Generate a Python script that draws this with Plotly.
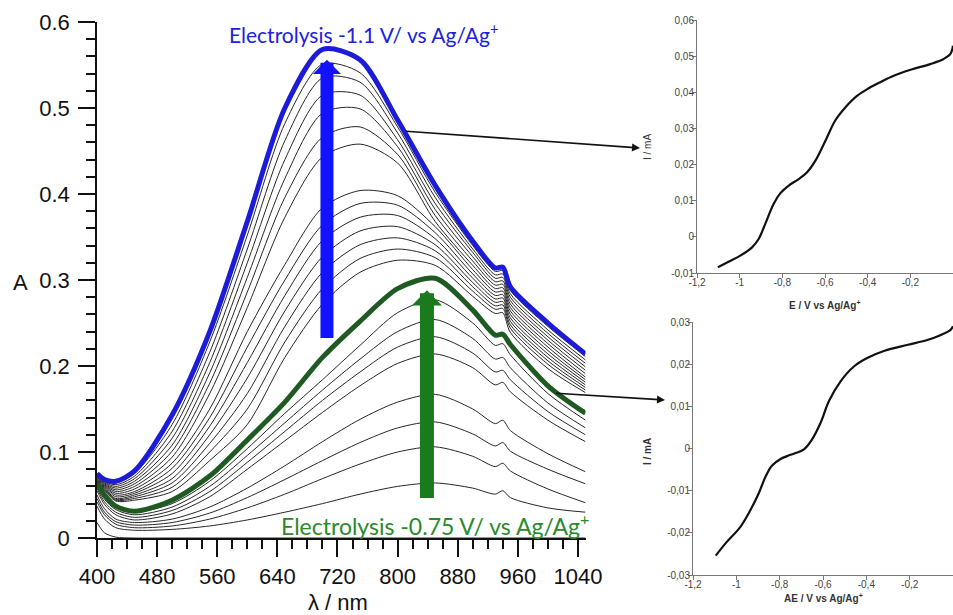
import plotly.graph_objects as go

# ---------------- data: main spectra ----------------
wavelength = [400, 410, 425, 450, 500, 550, 600, 650, 700, 750, 800, 850, 900, 930, 940, 950, 1000, 1050]

abs_blue = [0.075, 0.068, 0.066, 0.078, 0.143, 0.240, 0.368, 0.500, 0.568, 0.556, 0.486, 0.410, 0.345, 0.314, 0.315, 0.292, 0.250, 0.214]
abs_green = [0.064, 0.050, 0.037, 0.031, 0.044, 0.072, 0.114, 0.158, 0.210, 0.252, 0.290, 0.302, 0.265, 0.236, 0.237, 0.225, 0.177, 0.145]

abs_u01 = [0.074, 0.067, 0.064, 0.075, 0.132, 0.228, 0.352, 0.482, 0.551, 0.541, 0.478, 0.402, 0.340, 0.310, 0.311, 0.288, 0.246, 0.211]
abs_u02 = [0.073, 0.066, 0.062, 0.072, 0.124, 0.216, 0.336, 0.462, 0.535, 0.530, 0.471, 0.396, 0.336, 0.306, 0.307, 0.284, 0.242, 0.207]
abs_u03 = [0.072, 0.065, 0.060, 0.069, 0.116, 0.204, 0.320, 0.440, 0.515, 0.515, 0.463, 0.389, 0.332, 0.302, 0.303, 0.280, 0.238, 0.203]
abs_u04 = [0.071, 0.064, 0.058, 0.066, 0.108, 0.192, 0.303, 0.418, 0.494, 0.499, 0.455, 0.382, 0.327, 0.298, 0.299, 0.276, 0.234, 0.199]
abs_u05 = [0.070, 0.063, 0.056, 0.063, 0.101, 0.180, 0.286, 0.396, 0.466, 0.478, 0.446, 0.375, 0.322, 0.294, 0.295, 0.272, 0.230, 0.195]
abs_u06 = [0.069, 0.062, 0.054, 0.060, 0.094, 0.168, 0.268, 0.373, 0.443, 0.458, 0.436, 0.368, 0.317, 0.290, 0.291, 0.268, 0.226, 0.191]
abs_u07 = [0.068, 0.061, 0.052, 0.057, 0.087, 0.150, 0.240, 0.318, 0.384, 0.404, 0.398, 0.362, 0.312, 0.286, 0.287, 0.264, 0.222, 0.187]
abs_u08 = [0.067, 0.060, 0.050, 0.054, 0.081, 0.140, 0.222, 0.300, 0.364, 0.389, 0.387, 0.355, 0.307, 0.282, 0.283, 0.260, 0.218, 0.184]
abs_u09 = [0.066, 0.059, 0.048, 0.052, 0.075, 0.130, 0.204, 0.282, 0.346, 0.373, 0.375, 0.348, 0.302, 0.278, 0.279, 0.256, 0.214, 0.181]
abs_u10 = [0.065, 0.058, 0.046, 0.050, 0.069, 0.120, 0.186, 0.264, 0.327, 0.357, 0.362, 0.341, 0.297, 0.274, 0.275, 0.252, 0.210, 0.178]
abs_u11 = [0.064, 0.057, 0.045, 0.048, 0.064, 0.110, 0.168, 0.246, 0.309, 0.341, 0.349, 0.334, 0.292, 0.270, 0.271, 0.248, 0.206, 0.175]
abs_u12 = [0.063, 0.056, 0.044, 0.046, 0.059, 0.100, 0.150, 0.228, 0.290, 0.325, 0.336, 0.326, 0.287, 0.266, 0.267, 0.244, 0.202, 0.172]
abs_u13 = [0.062, 0.055, 0.043, 0.044, 0.054, 0.090, 0.132, 0.210, 0.272, 0.309, 0.323, 0.317, 0.281, 0.261, 0.262, 0.239, 0.197, 0.169]

abs_l01 = [0.062, 0.048, 0.036, 0.030, 0.040, 0.066, 0.104, 0.145, 0.184, 0.224, 0.262, 0.277, 0.250, 0.224, 0.226, 0.213, 0.168, 0.137]
abs_l02 = [0.060, 0.045, 0.033, 0.027, 0.036, 0.060, 0.096, 0.134, 0.172, 0.208, 0.240, 0.254, 0.232, 0.208, 0.210, 0.198, 0.157, 0.128]
abs_l03 = [0.058, 0.042, 0.030, 0.024, 0.032, 0.054, 0.088, 0.124, 0.160, 0.193, 0.222, 0.234, 0.215, 0.193, 0.195, 0.184, 0.147, 0.120]
abs_l04 = [0.055, 0.039, 0.027, 0.021, 0.028, 0.048, 0.080, 0.113, 0.146, 0.177, 0.203, 0.214, 0.198, 0.178, 0.181, 0.170, 0.137, 0.112]
abs_l05 = [0.050, 0.034, 0.022, 0.018, 0.022, 0.036, 0.058, 0.084, 0.112, 0.138, 0.158, 0.167, 0.150, 0.133, 0.137, 0.125, 0.098, 0.077]
abs_l06 = [0.046, 0.030, 0.019, 0.015, 0.018, 0.029, 0.047, 0.068, 0.090, 0.111, 0.128, 0.135, 0.121, 0.107, 0.111, 0.101, 0.080, 0.063]
abs_l07 = [0.042, 0.027, 0.016, 0.012, 0.014, 0.022, 0.035, 0.051, 0.069, 0.086, 0.100, 0.106, 0.095, 0.083, 0.087, 0.078, 0.057, 0.041]
abs_l08 = [0.037, 0.022, 0.012, 0.009, 0.010, 0.014, 0.021, 0.030, 0.040, 0.051, 0.060, 0.064, 0.058, 0.051, 0.055, 0.047, 0.035, 0.030]
abs_l09 = [0.018, 0.006, 0.001, 0.000, 0.000, 0.000, 0.000, 0.000, 0.000, 0.000, 0.000, 0.000, 0.000, 0.000, 0.000, 0.000, 0.000, 0.000]

# ---------------- data: voltammograms ----------------
e_top = [-1.102, -1.05, -0.997, -0.942, -0.911, -0.880, -0.841, -0.809, -0.770, -0.723, -0.684, -0.645, -0.598,
         -0.552, -0.505, -0.450, -0.395, -0.341, -0.278, -0.195, -0.106, -0.044, -0.012, 0.0]
i_top = [-0.0084, -0.0068, -0.0052, -0.0029, -0.0006, 0.0036, 0.0091, 0.0121, 0.0142, 0.0160, 0.0179, 0.0211, 0.0266,
         0.0322, 0.0358, 0.0390, 0.0411, 0.0428, 0.0446, 0.0463, 0.0478, 0.0492, 0.0506, 0.0529]

e_bot = [-1.095, -1.045, -0.983, -0.936, -0.898, -0.867, -0.836, -0.796, -0.750, -0.688, -0.650, -0.611, -0.572,
         -0.518, -0.456, -0.394, -0.316, -0.208, -0.115, -0.053, -0.014, 0.0]
i_bot = [-0.0254, -0.0222, -0.0187, -0.0147, -0.0108, -0.0069, -0.0041, -0.0025, -0.0015, -0.0002, 0.0022, 0.0061,
         0.0113, 0.0160, 0.0195, 0.0215, 0.0232, 0.0246, 0.0258, 0.0270, 0.0280, 0.0290]

x_main_ticks = [400, 480, 560, 640, 720, 800, 880, 960, 1040]
y_main_ticks = [0, 0.1, 0.2, 0.3, 0.4, 0.5, 0.6]
y_main_text = ["0", "0.1", "0.2", "0.3", "0.4", "0.5", "0.6"]
e_ticks = [-1.2, -1.0, -0.8, -0.6, -0.4, -0.2, 0.0]
e_text = ["-1,2", "-1", "-0,8", "-0,6", "-0,4", "-0,2", "0"]
i_top_ticks = [-0.01, 0, 0.01, 0.02, 0.03, 0.04, 0.05, 0.06]
i_top_text = ["-0,01", "0", "0,01", "0,02", "0,03", "0,04", "0,05", "0,06"]
i_bot_ticks = [-0.03, -0.02, -0.01, 0, 0.01, 0.02, 0.03]
i_bot_text = ["-0,03", "-0,02", "-0,01", "0", "0,01", "0,02", "0,03"]

black_spectra = [abs_u01, abs_u02, abs_u03, abs_u04, abs_u05, abs_u06, abs_u07, abs_u08, abs_u09,
                 abs_u10, abs_u11, abs_u12, abs_u13,
                 abs_l01, abs_l02, abs_l03, abs_l04, abs_l05, abs_l06, abs_l07, abs_l08, abs_l09]

W, H = 953, 615
BLUE_LINE = "#1c1cd8"
BLUE_ARROW = "#1212ff"
GREEN_LINE = "#1f5a22"
GREEN_ARROW = "#1b7a1e"

fig = go.Figure()
for spec in black_spectra:
    fig.add_trace(go.Scatter(x=wavelength, y=spec, mode="lines",
                             line=dict(color="#262626", width=1, shape="spline", smoothing=0.8),
                             xaxis="x", yaxis="y", showlegend=False, hoverinfo="skip"))
fig.add_trace(go.Scatter(x=wavelength, y=abs_green, mode="lines",
                         line=dict(color=GREEN_LINE, width=5, shape="spline", smoothing=0.8),
                         xaxis="x", yaxis="y", showlegend=False))
fig.add_trace(go.Scatter(x=wavelength, y=abs_blue, mode="lines",
                         line=dict(color=BLUE_LINE, width=5, shape="spline", smoothing=0.8),
                         xaxis="x", yaxis="y", showlegend=False))
fig.add_trace(go.Scatter(x=e_top, y=i_top, mode="lines",
                         line=dict(color="#111", width=2.2, shape="spline"),
                         xaxis="x2", yaxis="y2", showlegend=False))
fig.add_trace(go.Scatter(x=e_bot, y=i_bot, mode="lines",
                         line=dict(color="#111", width=2.2, shape="spline"),
                         xaxis="x3", yaxis="y3", showlegend=False))

main_font = dict(family="Liberation Sans, Arial, sans-serif", size=22, color="#111")
small_font = dict(family="Liberation Sans, Arial, sans-serif", size=10, color="#444")

def px_x(p):
    return p / W

def px_y(p):
    return 1 - p / H

common_small_x = dict(showline=True, linecolor="#777", linewidth=1, ticks="outside", ticklen=4,
                      tickcolor="#777", showgrid=False, zeroline=False, tickfont=small_font,
                      tickvals=e_ticks, ticktext=e_text, range=[-1.2, 0.0], automargin=False,
                      ticklabelstandoff=-4)
common_small_y = dict(showline=True, linecolor="#777", linewidth=1, ticks="outside", ticklen=4,
                      tickcolor="#777", showgrid=False, zeroline=False, tickfont=small_font, automargin=False,
                      ticklabelstandoff=-4)

fig.update_layout(
    width=W, height=H,
    margin=dict(l=0, r=0, t=0, b=0, pad=0, autoexpand=False),
    paper_bgcolor="white", plot_bgcolor="white",
    xaxis=dict(domain=[px_x(97), px_x(585.5)], range=[400, 1050], anchor="y", automargin=False,
               tickvals=x_main_ticks, ticks="outside", ticklen=17, tickwidth=1.5, tickcolor="#111",
               showline=True, linecolor="#111", linewidth=1.5, showgrid=False, zeroline=False,
               tickfont=main_font, ticklabelstandoff=1,
               minor=dict(dtick=20, tick0=400, ticks="outside", ticklen=9, tickwidth=1.5, tickcolor="#111")),
    yaxis=dict(domain=[px_y(538), px_y(22)], range=[0, 0.6], anchor="x", automargin=False,
               tickvals=y_main_ticks, ticktext=y_main_text, ticks="outside", ticklen=17, tickwidth=1.5,
               tickcolor="#111", showline=True, linecolor="#111", linewidth=1.5, showgrid=False,
               zeroline=False, tickfont=main_font, ticklabelstandoff=4,
               minor=dict(dtick=0.02, tick0=0, ticks="outside", ticklen=9, tickwidth=1.5, tickcolor="#111")),
    xaxis2=dict(domain=[px_x(697), 1.0], anchor="y2", **common_small_x),
    yaxis2=dict(domain=[px_y(273), px_y(20)], range=[-0.01, 0.06], anchor="x2",
                tickvals=i_top_ticks, ticktext=i_top_text, **common_small_y),
    xaxis3=dict(domain=[px_x(693), 1.0], anchor="y3", **common_small_x),
    yaxis3=dict(domain=[px_y(575), px_y(322)], range=[-0.03, 0.03], anchor="x3",
                tickvals=i_bot_ticks, ticktext=i_bot_text, **common_small_y),
)

def label(text, xp, yp, font, **kw):
    return dict(text=text, x=px_x(xp), y=px_y(yp), xref="paper", yref="paper", showarrow=False,
                font=font, xanchor="center", yanchor="middle", **kw)

ann = []
ann.append(label("A", 20, 282, main_font))
ann.append(label("λ / nm", 338, 602, main_font))
ann.append(label("Electrolysis -1.1 V/ vs Ag/Ag<sup>+</sup>", 363, 33,
                 dict(family="Lato, Open Sans, sans-serif", size=21, color="#2020e0")))
ann.append(label("Electrolysis -0.75 V/ vs Ag/Ag<sup>+</sup>", 435, 524,
                 dict(family="Lato, Open Sans, sans-serif", size=23, color="#2a8a2a")))
ann.append(dict(text=" ", x=706, y=0.556, xref="x", yref="y", ax=706, ay=0.221, axref="x", ayref="y",
                showarrow=True, arrowhead=1, arrowsize=0.36, arrowwidth=13, arrowcolor=BLUE_ARROW))
ann.append(dict(text=" ", x=839, y=0.288, xref="x", yref="y", ax=839, ay=0.035, axref="x", ayref="y",
                showarrow=True, arrowhead=1, arrowsize=0.36, arrowwidth=14, arrowcolor=GREEN_ARROW))
ann.append(dict(text=" ", x=px_x(640), y=px_y(148), xref="paper", yref="paper", ax=-237, ay=-17,
                showarrow=True, arrowhead=2, arrowsize=1, arrowwidth=1.6, arrowcolor="#111"))
ann.append(dict(text=" ", x=px_x(665), y=px_y(400), xref="paper", yref="paper", ax=-112, ay=-7,
                showarrow=True, arrowhead=2, arrowsize=1, arrowwidth=1.6, arrowcolor="#111"))
title_font = dict(family="Liberation Sans, Arial, sans-serif", size=10, color="#333")
ann.append(label("I / mA", 647, 147, title_font, textangle=-90))
ann.append(label("<b>E / V vs Ag/Ag<sup>+</sup></b>", 825, 305, title_font))
ann.append(label("<b>I / mA</b>", 647, 452, title_font, textangle=-90))
ann.append(label("<b>AE / V vs Ag/Ag<sup>+</sup></b>", 823, 598, title_font))
fig.update_layout(annotations=ann)

fig.write_html("out.html", config={"displayModeBar": False},
               post_script="document.body.style.margin='0px'; document.body.style.overflow='hidden';")
